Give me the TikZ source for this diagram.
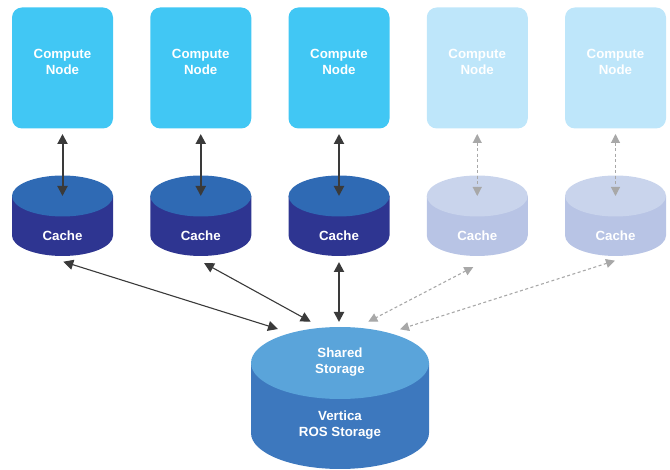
\documentclass[tikz,border=0pt]{standalone}
\usepackage{fontspec}
\setmainfont{Liberation Sans}
\usetikzlibrary{arrows.meta}
\definecolor{compC}{HTML}{41C7F4}
\definecolor{compF}{HTML}{BEE6FA}
\definecolor{cacheTop}{HTML}{2F6AB4}
\definecolor{cacheBody}{HTML}{2E3591}
\definecolor{cacheTopF}{HTML}{C9D4EC}
\definecolor{cacheBodyF}{HTML}{B8C4E5}
\definecolor{stTop}{HTML}{5AA4DA}
\definecolor{stBody}{HTML}{3D78BE}
\definecolor{darkArr}{HTML}{3A3A3A}
\definecolor{greyArr}{HTML}{A8A8A8}
\newcommand{\mycyl}[7]{% cx, top cy, rx, ry, bottom cy, body, top
  \fill[#6] (#1-#3,#2) -- (#1-#3,#5) arc[start angle=180,end angle=360,x radius=#3pt,y radius=#4pt] -- (#1+#3,#2) -- cycle;
  \fill[#7] (#1,#2) ellipse[x radius=#3pt,y radius=#4pt];
}
\tikzset{
  compute/.style={rounded corners=10pt, minimum width=101pt, minimum height=121pt, inner sep=0pt},
  lbl/.style={text=white, font=\bfseries\fontsize{13.3}{16}\selectfont, align=center, inner sep=0pt},
  thickarr/.style={draw=darkArr, line width=2pt, {Triangle[length=10pt,width=10pt]}-{Triangle[length=10pt,width=10pt]}},
  thinarr/.style={draw=darkArr, line width=1.1pt, {Triangle[length=10pt,width=10pt]}-{Triangle[length=10pt,width=10pt]}},
  dasharr/.style={draw=greyArr, line width=1.1pt, dash pattern=on 3pt off 2.5pt, {Triangle[length=9pt,width=9pt]}-{Triangle[length=9pt,width=9pt]}},
}
\begin{document}
\begin{tikzpicture}[x=1pt,y=-1pt]
\useasboundingbox (0,0) rectangle (670,470);
% compute nodes
\foreach \i/\x/\c in {1/62.5/compC,2/200.75/compC,3/339/compC,4/477.25/compF,5/615.5/compF}{
  \node[compute, fill=\c] (c\i) at (\x,68) {};
  \node[lbl] (ct\i) at (\x,61.5) {Compute\\Node};
}
% caches
\foreach \i/\x/\b/\t in {1/62.5/cacheBody/cacheTop,2/200.75/cacheBody/cacheTop,3/339/cacheBody/cacheTop,4/477.25/cacheBodyF/cacheTopF,5/615.5/cacheBodyF/cacheTopF}{
  \mycyl{\x}{196}{50.5}{20.5}{235.5}{\b}{\t}
  \node[lbl] (k\i) at (\x,235.5) {Cache};
  \coordinate (kt\i) at (\x,196);
  \coordinate (ct\i b) at (\x,134);
}
% shared storage
\mycyl{340}{363}{89}{36}{433}{stBody}{stTop}
\node[lbl] (sh) at (340,362.5) {Shared\\Storage};
\node[lbl] (vr) at (340,425.5) {Vertica\\ROS Storage};
% connector end points
\coordinate (kb1) at (63.3,261.7);
\coordinate (kb2) at (204,263);
\coordinate (kb3) at (339,262);
\coordinate (kb4) at (473.3,267);
\coordinate (kb5) at (615,260.7);
\coordinate (s1) at (278,329);
\coordinate (s2) at (310.7,321.7);
\coordinate (s3) at (339,322);
\coordinate (s4) at (368.3,321.7);
\coordinate (s5) at (400,329.3);
% compute <-> cache
\draw[thickarr] (ct1b) -- (kt1);
\draw[thickarr] (ct2b) -- (kt2);
\draw[thickarr] (ct3b) -- (kt3);
\draw[dasharr] (ct4b) -- (kt4);
\draw[dasharr] (ct5b) -- (kt5);
% cache <-> storage
\draw[thinarr] (kb1) -- (s1);
\draw[thinarr] (kb2) -- (s2);
\draw[thickarr] (kb3) -- (s3);
\draw[dasharr] (kb4) -- (s4);
\draw[dasharr] (kb5) -- (s5);
\end{tikzpicture}
\end{document}
